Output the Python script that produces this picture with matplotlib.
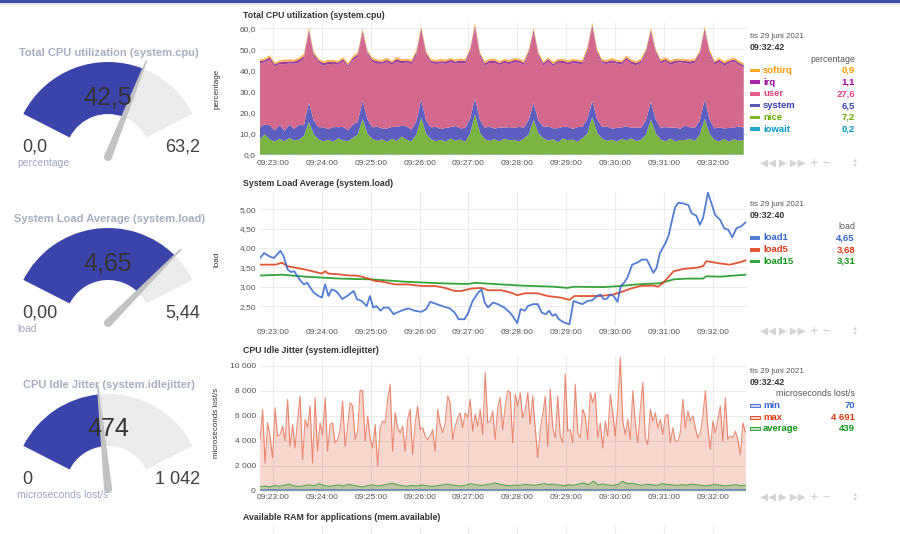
import numpy as np
import matplotlib.pyplot as plt
from matplotlib.patches import Wedge, Polygon, Circle, Rectangle

plt.rcParams['font.family'] = ['Liberation Sans', 'DejaVu Sans']

W, H = 900, 534

# time axis, seconds after 09:23:00
time_ticks = [0, 60, 120, 180, 240, 300, 360, 420, 480, 540]
time_labels = ['09:23:00', '09:24:00', '09:25:00', '09:26:00', '09:27:00',
               '09:28:00', '09:29:00', '09:30:00', '09:31:00', '09:32:00']

# system.cpu (one point every 6 s)
cpu_nice = [7.2, 9.8, 7.0, 6.2, 7.5, 6.4, 7.9, 6.6, 7.1, 9.0,
            15.5, 9.5, 7.2, 6.4, 7.0, 6.1, 7.6, 6.8, 6.4, 7.9,
            9.5, 17.0, 9.8, 7.5, 6.6, 7.2, 6.0, 7.4, 6.5, 8.6,
            7.0, 6.4, 9.5, 17.5, 9.8, 7.4, 6.3, 7.0, 6.2, 7.5,
            6.6, 7.2, 6.1, 10.0, 19.0, 10.5, 7.4, 6.5, 7.3, 6.2,
            7.6, 6.8, 7.0, 6.3, 7.5, 9.5, 16.5, 10.0, 7.8, 6.5,
            7.3, 6.0, 7.6, 6.8, 7.0, 6.2, 7.8, 10.0, 18.0, 10.5,
            7.5, 6.5, 7.2, 6.1, 7.4, 6.6, 7.8, 6.4, 7.0, 9.5,
            16.5, 10.0, 7.2, 6.4, 7.6, 6.2, 7.0, 6.8, 7.5, 6.5,
            9.5, 17.0, 9.8, 7.0, 6.3, 7.4, 6.1, 7.2, 6.6, 7.0]
cpu_system = [6.0, 4.5, 6.8, 5.2, 6.5, 5.0, 6.2, 5.5, 6.9, 5.0,
              9.0, 6.5, 5.8, 6.6, 5.0, 6.9, 5.3, 6.4, 5.1, 6.2,
              6.0, 8.5, 6.8, 5.4, 6.7, 5.2, 6.3, 5.6, 6.8, 5.0,
              6.4, 5.5, 6.2, 8.5, 6.2, 5.6, 6.8, 5.1, 6.5, 5.4,
              6.9, 5.2, 6.6, 7.0, 7.5, 6.0, 5.5, 6.7, 5.0, 6.5,
              5.3, 6.2, 5.6, 6.9, 5.2, 7.0, 8.0, 6.0, 5.4, 6.8,
              5.1, 6.6, 5.5, 6.3, 5.0, 6.9, 5.4, 7.0, 7.5, 6.2,
              5.6, 6.8, 5.2, 6.5, 5.4, 6.7, 5.0, 6.4, 5.7, 7.0,
              8.5, 6.5, 5.5, 6.7, 5.1, 6.6, 5.3, 6.9, 5.4, 6.2,
              6.5, 9.0, 6.8, 5.4, 6.6, 5.0, 6.5, 5.5, 6.8, 5.7]
cpu_user = [30.0, 29.5, 31.0, 30.2, 28.8, 31.5, 29.0, 30.8, 29.6, 31.5,
            33.0, 30.5, 30.5, 29.2, 30.8, 30.0, 29.5, 30.9, 29.8, 30.5,
            30.8, 31.5, 30.5, 31.0, 29.8, 30.6, 31.4, 29.5, 30.8, 29.6,
            30.2, 31.0, 31.2, 32.0, 30.8, 30.4, 29.8, 31.2, 30.3, 30.8,
            29.5, 31.0, 30.6, 31.0, 33.0, 30.0, 29.4, 30.2, 31.0, 29.6,
            30.6, 29.8, 31.0, 30.4, 29.6, 31.0, 33.0, 30.5, 29.0, 30.6,
            29.4, 31.0, 30.2, 29.5, 31.2, 30.0, 29.6, 31.5, 34.5, 31.0,
            30.0, 29.6, 31.2, 30.5, 29.8, 31.4, 30.2, 29.5, 30.8, 31.2,
            32.5, 31.0, 30.4, 31.2, 29.7, 30.6, 31.5, 29.4, 30.0, 30.8,
            31.0, 32.0, 30.8, 30.2, 31.0, 29.6, 30.8, 31.2, 29.2, 28.5]
cpu_irq = [1.1, 1.0, 1.2, 1.1, 0.9, 1.2, 1.0, 1.1, 1.3, 1.2,
           1.4, 1.1, 1.0, 1.2, 1.1, 0.9, 1.1, 1.2, 1.0, 1.1,
           1.2, 1.3, 1.1, 1.0, 1.2, 0.9, 1.1, 1.0, 1.2, 1.1,
           1.0, 1.1, 1.3, 1.4, 1.2, 1.0, 1.1, 0.9, 1.2, 1.1,
           1.0, 1.2, 1.1, 1.3, 1.4, 1.2, 1.0, 1.1, 1.2, 0.9,
           1.1, 1.0, 1.2, 1.1, 1.0, 1.2, 1.4, 1.1, 1.0, 1.2,
           1.1, 0.9, 1.2, 1.0, 1.1, 1.2, 1.0, 1.3, 1.4, 1.2,
           1.0, 1.1, 1.2, 0.9, 1.1, 1.0, 1.2, 1.1, 1.0, 1.3,
           1.4, 1.2, 1.1, 1.0, 1.2, 1.1, 0.9, 1.1, 1.2, 1.0,
           1.2, 1.4, 1.2, 1.0, 1.1, 1.2, 0.9, 1.1, 1.0, 1.1]
cpu_softirq = [0.9, 0.8, 1.0, 0.9, 0.8, 1.0, 0.9, 0.8, 1.0, 1.1,
               1.2, 1.0, 0.9, 0.8, 1.0, 0.9, 0.8, 0.9, 1.0, 0.9,
               1.1, 1.2, 1.0, 0.9, 0.8, 1.0, 0.9, 0.8, 1.0, 0.9,
               0.8, 0.9, 1.1, 1.2, 1.0, 0.9, 0.8, 1.0, 0.9, 0.8,
               1.0, 0.9, 0.8, 1.1, 1.3, 1.0, 0.9, 0.8, 1.0, 0.9,
               0.8, 1.0, 0.9, 0.8, 1.0, 1.1, 1.2, 1.0, 0.9, 0.8,
               1.0, 0.9, 0.8, 1.0, 0.9, 0.8, 1.0, 1.1, 1.3, 1.0,
               0.9, 0.8, 1.0, 0.9, 0.8, 1.0, 0.9, 0.8, 1.0, 1.1,
               1.2, 1.0, 0.9, 0.8, 1.0, 0.9, 0.8, 1.0, 0.9, 0.8,
               1.1, 1.2, 1.0, 0.9, 0.8, 1.0, 0.9, 0.8, 1.0, 0.9]
cpu_iowait = [0.2, 0.1, 0.3, 0.2, 0.2, 0.1, 0.2, 0.3, 0.2, 0.1,
              0.2, 0.3, 0.2, 0.1, 0.2, 0.2, 0.3, 0.1, 0.2, 0.2,
              0.1, 0.2, 0.3, 0.2, 0.1, 0.2, 0.2, 0.3, 0.1, 0.2,
              0.2, 0.1, 0.2, 0.3, 0.2, 0.1, 0.2, 0.2, 0.1, 0.3,
              0.2, 0.2, 0.1, 0.2, 0.3, 0.2, 0.1, 0.2, 0.2, 0.3,
              0.1, 0.2, 0.2, 0.1, 0.3, 0.2, 0.2, 0.1, 0.2, 0.3,
              0.2, 0.1, 0.2, 0.2, 0.3, 0.1, 0.2, 0.2, 0.1, 0.2,
              0.3, 0.2, 0.1, 0.2, 0.2, 0.3, 0.1, 0.2, 0.2, 0.1,
              0.2, 0.3, 0.2, 0.1, 0.2, 0.2, 0.1, 0.3, 0.2, 0.2,
              0.1, 0.2, 0.3, 0.2, 0.1, 0.2, 0.2, 0.3, 0.1, 0.2]

# system.load
load1_t = [-16, -11, -5, 1, 5, 9, 13, 18, 22, 26, 30, 34, 38, 42, 46, 50, 56, 60, 64, 68,
           72, 77, 81, 85, 91, 99, 103, 109, 115, 119, 123, 127, 132, 136, 142, 148, 154, 160, 166, 174,
           182, 188, 193, 201, 209, 217, 223, 228, 235, 239, 245, 252, 256, 260, 264, 270, 276, 284, 290, 294,
           300, 304, 309, 313, 319, 325, 330, 335, 339, 343, 347, 351, 357, 364, 369, 374, 380, 386, 392, 398,
           402, 406, 410, 414, 418, 423, 427, 431, 435, 441, 447, 453, 459, 463, 467, 471, 475, 482, 486, 490,
           494, 498, 504, 510, 514, 520, 524, 528, 532, 534, 539, 543, 549, 554, 559, 564, 569, 575, 580]
load1 = [3.74, 3.87, 3.79, 3.74, 3.83, 3.93, 3.79, 3.44, 3.38, 3.40, 3.27, 3.15, 3.06, 3.10, 2.97, 2.85, 2.76, 2.72, 3.06, 2.76,
         2.93, 2.89, 2.80, 2.68, 2.76, 2.89, 2.68, 2.63, 2.50, 2.76, 2.46, 2.50, 2.38, 2.46, 2.46, 2.29, 2.35, 2.40, 2.44, 2.38,
         2.35, 2.42, 2.61, 2.55, 2.49, 2.44, 2.33, 2.16, 2.16, 2.29, 2.63, 2.85, 2.93, 2.59, 2.46, 2.59, 2.55, 2.46, 2.35, 2.25,
         2.06, 2.42, 2.38, 2.50, 2.55, 2.55, 2.33, 2.29, 2.38, 2.25, 2.29, 2.16, 2.08, 2.03, 2.63, 2.59, 2.55, 2.63, 2.65, 2.76,
         2.80, 2.68, 2.69, 2.80, 2.76, 2.61, 3.02, 3.10, 3.23, 3.57, 3.62, 3.70, 3.70, 3.53, 3.36, 3.49, 3.87, 4.13, 4.34, 4.73,
         5.07, 5.17, 5.15, 5.11, 4.90, 4.83, 4.60, 4.77, 5.20, 5.43, 5.11, 4.85, 4.73, 4.51, 4.47, 4.28, 4.51, 4.56, 4.66]
load5_t = [-16, -5, 3, 11, 18, 28, 40, 52, 60, 64, 68, 81, 93, 101, 109, 117, 125, 134, 150, 166,
           182, 199, 211, 223, 231, 243, 256, 264, 280, 292, 300, 309, 325, 337, 353, 364, 370, 386, 402, 418,
           427, 439, 451, 467, 473, 479, 492, 504, 520, 528, 532, 541, 549, 561, 573, 580]
load5 = [3.57, 3.57, 3.57, 3.62, 3.53, 3.49, 3.44, 3.38, 3.34, 3.40, 3.34, 3.32, 3.29, 3.29, 3.26, 3.21, 3.15, 3.13, 3.06, 3.06,
         3.02, 3.02, 2.97, 2.89, 2.89, 2.95, 2.97, 2.91, 2.91, 2.85, 2.78, 2.83, 2.83, 2.76, 2.72, 2.66, 2.76, 2.76, 2.76, 2.80,
         2.86, 2.95, 3.02, 3.03, 3.00, 3.10, 3.40, 3.46, 3.49, 3.53, 3.66, 3.63, 3.60, 3.57, 3.63, 3.68]
load15_t = [-16, 11, 40, 81, 121, 162, 203, 239, 248, 264, 304, 345, 361, 370, 406, 427, 447, 475, 492, 508,
            528, 532, 549, 580]
load15 = [3.29, 3.31, 3.26, 3.21, 3.19, 3.13, 3.09, 3.07, 3.10, 3.08, 3.03, 3.00, 2.97, 3.00, 2.99, 3.02, 3.06, 3.09, 3.19, 3.21,
          3.21, 3.27, 3.26, 3.31]

# system.idlejitter
jitter_max = [4500, 4100, 6510, 2220, 5440, 4370, 2630, 6650, 4370, 4500,
              5170, 4020, 7320, 3560, 5310, 3430, 5710, 7580, 2490, 5710,
              5040, 6780, 2220, 7450, 3160, 5440, 4500, 7450, 3160, 5310,
              5440, 3830, 4100, 4900, 7180, 3560, 5170, 7050, 6780, 4100,
              4770, 8040, 7990, 3970, 5980, 4230, 3430, 5310, 1960, 5040,
              5570, 5440, 7320, 8520, 3160, 6240, 5040, 4640, 5170, 3160,
              5710, 6510, 2890, 5440, 6780, 4900, 5040, 4370, 4100, 4370,
              4900, 3160, 6510, 5310, 4640, 5440, 7580, 7050, 4100, 5170,
              5840, 6240, 5040, 6240, 5840, 7320, 4770, 6110, 5170, 6510,
              4500, 9460, 5440, 5570, 6380, 4100, 6650, 7450, 4900, 6780,
              7990, 7850, 3830, 7720, 6780, 7850, 5840, 6510, 7850, 5310,
              7580, 5040, 2630, 4900, 6110, 7580, 3560, 8120, 5040, 4230,
              7580, 4370, 3830, 9330, 4770, 4900, 3830, 8520, 4640, 4230,
              6510, 5980, 4100, 7850, 7050, 7850, 4230, 5440, 3430, 5570,
              4370, 7720, 6240, 4370, 6780, 10670, 5570, 4500, 5710, 4100,
              7990, 5440, 3830, 6510, 8660, 4230, 3700, 6510, 5570, 6240,
              5040, 5710, 4500, 5980, 6110, 3830, 5040, 3970, 3970, 4640,
              7320, 5040, 6380, 5570, 5980, 5040, 4230, 4640, 5980, 7990,
              5040, 3300, 5570, 4640, 5710, 6780, 3970, 7450, 4100, 4370,
              4230, 4770, 4100, 2890, 5440, 4690]
jitter_avg = [330, 380, 300, 420, 360, 450, 520, 380, 340, 410,
              470, 390, 560, 420, 350, 400, 460, 380, 520, 440,
              360, 300, 410, 470, 380, 430, 520, 600, 480, 400,
              350, 420, 380, 460, 400, 340, 390, 450, 520, 470,
              410, 380, 450, 560, 480, 420, 470, 540, 620, 500,
              440, 390, 460, 420, 510, 470, 430, 500, 560, 480,
              520, 450, 400, 480, 440, 520, 620, 480, 760, 470,
              540, 460, 420, 500, 740, 560, 600, 480, 440, 520,
              470, 430, 560, 500, 470, 420, 480, 450, 520, 480,
              430, 390, 450, 500, 420, 380, 440, 480, 410, 440]
jitter_min = [70, 60, 80, 65, 55, 75, 70, 85, 60, 70,
              65, 90, 70, 60, 75, 80, 65, 70, 55, 75,
              80, 70, 60, 85, 70, 65, 75, 60, 80, 70,
              75, 65, 70, 90, 60, 70, 80, 65, 75, 70,
              60, 85, 70, 75, 65, 80, 70, 60, 75, 70,
              80, 65, 70, 60, 85, 75, 70, 65, 80, 70,
              75, 60, 70, 85, 65, 75, 70, 80, 60, 70,
              65, 75, 90, 70, 60, 80, 70, 65, 75, 70,
              80, 60, 70, 75, 65, 85, 70, 60, 75, 70,
              65, 80, 70, 60, 75, 70, 85, 65, 75, 70]

# gauges
gauge_titles = ['Total CPU utilization (system.cpu)', 'System Load Average (system.load)',
                'CPU Idle Jitter (system.idlejitter)']
gauge_units = ['percentage', 'load', 'microseconds lost/s']
gauge_value = [42.5, 4.65, 474]
gauge_max = [63.2, 5.44, 1042]
gauge_text = ['42,5', '4,65', '474']
gauge_min_text = ['0,0', '0,00', '0']
gauge_max_text = ['63,2', '5,44', '1 042']

# legends
cpu_dims = ['softirq', 'irq', 'user', 'system', 'nice', 'iowait']
cpu_last = ['0,9', '1,1', '27,6', '6,5', '7,2', '0,2']
cpu_colors = ['#FF9900', '#990099', '#DD4477', '#3B3EAC', '#66AA00', '#0099C6']
cpu_fill = ['#f8b04c', '#9c3c9c', '#d5698d', '#5c5fbf', '#7cb444', '#44aacf']
load_dims = ['load1', 'load5', 'load15']
load_last = ['4,65', '3,68', '3,31']
jit_dims = ['min', 'max', 'average']
jit_last = ['70', '4 691', '439']
c_blue, c_red, c_green = '#3366CC', '#DC3912', '#109618'

fig = plt.figure(figsize=(W / 100, H / 100), dpi=100)
ov = fig.add_axes([0, 0, 1, 1])
ov.set_xlim(0, W)
ov.set_ylim(0, H)
ov.axis('off')


def py(y):
    return H - y


def txt(x, y, s, **kw):
    ov.text(x, py(y), s, va='center', **kw)


# top bar
ov.add_patch(Rectangle((0, py(3)), W, 3, fc='#3d4da8', ec='none'))
ov.add_patch(Rectangle((0, py(5)), W, 2, fc='#e6e8f0', ec='none'))

# gauges: arc from 153 deg (min) to 27 deg (max)
R, r = 95, 43
A0, SPAN = 153, 126
for k, cy0 in enumerate([157, 323, 489]):
    cx, cy = 108, py(cy0)
    ang = A0 - SPAN * gauge_value[k] / gauge_max[k]
    ov.add_patch(Wedge((cx, cy), R, A0 - SPAN, A0, width=R - r, fc='#ebebeb', ec='none'))
    ov.add_patch(Wedge((cx, cy), R, ang, A0, width=R - r, fc='#3b44ab', ec='none'))
    u = np.array([np.cos(np.radians(ang)), np.sin(np.radians(ang))])
    p = np.array([-u[1], u[0]])
    c = np.array([cx, cy])
    L = 104
    ov.add_patch(Polygon([c + 4 * p, c + L * u + 0.8 * p, c + L * u - 0.8 * p, c - 4 * p],
                         fc='#c2c2c2', ec='none'))
    ov.add_patch(Circle((cx, cy), 4, fc='#c2c2c2', ec='none'))
    txt(109, cy0 - 104, gauge_titles[k], ha='center', fontsize=8, weight='bold', color='#a7aec0')
    txt(108, cy0 - 60, gauge_text[k], ha='center', fontsize=18, color='#333333')
    txt(22, cy0 - 10, gauge_min_text[k], ha='left', fontsize=13, color='#404040')
    txt(200, cy0 - 10, gauge_max_text[k], ha='right', fontsize=13, color='#404040')
    txt(17, cy0 + 6, gauge_units[k], ha='left', fontsize=7.5, color='#a0a6c4')

XL = (-16, 582)


def panel(y0, y1, xpad):
    ax = fig.add_axes([260 / W, 1 - y1 / H, 487 / W, (y1 - y0) / H])
    for s in ax.spines.values():
        s.set_visible(False)
    ax.grid(color='#ececec', lw=0.8)
    ax.set_axisbelow(True)
    ax.set_xlim(*XL)
    ax.set_xticks(time_ticks)
    ax.set_xticklabels(time_labels)
    ax.tick_params(length=0, labelsize=6, colors='#555555')
    ax.tick_params(axis='x', pad=xpad)
    ax.tick_params(axis='y', pad=3)
    return ax


# chart 1: cpu
ax1 = panel(23, 155, 3.5)
t_cpu = np.linspace(-16, 578, len(cpu_nice))
ax1.stackplot(t_cpu, cpu_iowait, cpu_nice, cpu_system, cpu_user, cpu_irq, cpu_softirq,
              colors=cpu_fill[::-1], lw=0)
ax1.set_ylim(0, 62.5)
yt = [0, 10, 20, 30, 40, 50, 60]
ax1.set_yticks(yt)
ax1.set_yticklabels([f'{v:.1f}'.replace('.', ',') for v in yt])

# chart 2: load
ax2 = panel(191.5, 326.2, 1.8)
ax2.plot(load15_t, load15, color=c_green, lw=1.3, alpha=0.85)
ax2.plot(load5_t, load5, color=c_red, lw=1.3, alpha=0.85)
ax2.plot(load1_t, load1, color=c_blue, lw=1.3, alpha=0.85)
ax2.set_ylim(1.98, 5.46)
yt = [2.5, 3.0, 3.5, 4.0, 4.5, 5.0]
ax2.set_yticks(yt)
ax2.set_yticklabels([f'{v:.2f}'.replace('.', ',') for v in yt])

# chart 3: idle jitter
ax3 = panel(355.7, 490.7, 2.2)
t_max = np.linspace(-19, 580, len(jitter_max))
t_avg = np.linspace(-16, 580, len(jitter_avg))
ax3.fill_between(t_max, jitter_max, color=c_red, alpha=0.2, lw=0)
ax3.plot(t_max, jitter_max, color=c_red, lw=0.8, alpha=0.55)
ax3.fill_between(t_avg, jitter_avg, color=c_green, alpha=0.25, lw=0)
ax3.plot(t_avg, jitter_avg, color=c_green, lw=0.8, alpha=0.7)
ax3.fill_between(t_avg, jitter_min, color=c_blue, alpha=0.2, lw=0)
ax3.plot(t_avg, jitter_min, color=c_blue, lw=0.8, alpha=0.8)
ax3.set_ylim(0, 10800)
yt = [0, 2000, 4000, 6000, 8000, 10000]
ax3.set_yticks(yt)
ax3.set_yticklabels([f'{v:,}'.replace(',', ' ') for v in yt])

# next chart (cut off)
ax4 = fig.add_axes([260 / W, -40 / H, 487 / W, 48 / H])
for s in ax4.spines.values():
    s.set_visible(False)
ax4.set_xlim(*XL)
ax4.set_xticks(time_ticks)
ax4.set_yticks([])
ax4.tick_params(length=0, labelbottom=False)
ax4.grid(axis='x', color='#ececec', lw=0.8)

# titles and axis names
for y, s in [(16, 'Total CPU utilization (system.cpu)'), (183, 'System Load Average (system.load)'),
             (350.5, 'CPU Idle Jitter (system.idlejitter)'),
             (518, 'Available RAM for applications (mem.available)')]:
    txt(243, y, s, ha='left', fontsize=6.3, weight='bold', color='#333333')
for y, s in [(89, 'percentage'), (259, 'load'), (423, 'microseconds lost/s')]:
    txt(217, y, s, ha='center', rotation=90, fontsize=5.8, color='#333333')


def legend(y0, stamp, unit, names, values, colors, line=False):
    txt(750, y0, 'tis 29 juni 2021', ha='left', fontsize=5.8, color='#555555')
    txt(750, y0 + 11, stamp, ha='left', fontsize=6.3, weight='bold', color='#333333')
    txt(855, y0 + 22.5, unit, ha='right', fontsize=6.4, color='#555555')
    for i, (n, v, c) in enumerate(zip(names, values, colors)):
        y = y0 + 34 + 11.7 * i
        if line:
            ov.add_patch(Rectangle((750, py(y) - 1.5), 10, 3, fc=c, alpha=0.25, ec='none'))
            ov.add_patch(Rectangle((750, py(y) - 1.5), 10, 3, fc='none', ec=c, lw=0.6))
        else:
            ov.add_patch(Rectangle((750, py(y) - 1.8), 10, 3.6, fc=c, ec='none', alpha=0.85))
        txt(763, y, n, ha='left', fontsize=6.8, weight='bold', color=c)
        txt(855, y, v, ha='right', fontsize=6.8, weight='bold', color=c)


def controls(y):
    txt(760, y, '◀◀ ▶ ▶▶', ha='left', fontsize=7.5, color='#d4d4d4')
    txt(810, y, '+ −', ha='left', fontsize=7.5, weight='bold', color='#d4d4d4', family='DejaVu Sans')
    txt(855, y - 2.8, '▲', ha='center', fontsize=4.5, color='#d4d4d4')
    txt(855, y + 2.8, '▼', ha='center', fontsize=4.5, color='#d4d4d4')


legend(36.5, '09:32:42', 'percentage', cpu_dims, cpu_last, cpu_colors)
legend(204, '09:32:40', 'load', load_dims, load_last, [c_blue, c_red, c_green])
legend(371.5, '09:32:42', 'microseconds lost/s', jit_dims, jit_last, [c_blue, c_red, c_green], line=True)
controls(163)
controls(331)
controls(497)

fig.savefig('out.png', dpi=100)
